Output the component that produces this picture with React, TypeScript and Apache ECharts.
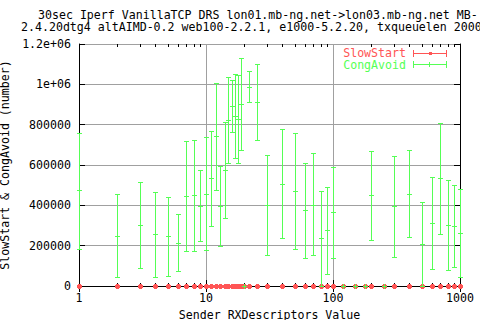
import React, { useEffect, useRef } from "react";
import * as echarts from "echarts";

const titleLines = [
  "30sec Iperf VanillaTCP DRS lon01.mb-ng.net->lon03.mb-ng.net MB-",
  "2.4.20dtg4 altAIMD-0.2 web100-2.2.1, e1000-5.2.20, txqueuelen 2000",
];
const xAxisName = "Sender RXDescriptors Value";
const yAxisName = "SlowStart & CongAvoid (number)";
const legendNames = ["SlowStart", "CongAvoid"];

const yTickLabels = ["0", "200000", "400000", "600000", "800000", "1e+06", "1.2e+06"];
const xTickLabels = ["1", "10", "100", "1000"];
const minorTickValues = [2, 3, 4, 5, 6, 7, 8, 9, 20, 30, 40, 50, 60, 70, 80, 90, 200, 300, 400, 500, 600, 700, 800, 900];

const slowStartX = [1, 2, 3, 4, 5, 6, 7, 8, 9, 10, 11, 12, 13, 14, 15, 16, 17, 18, 19, 20, 22, 25, 30, 40, 50, 60, 70, 80, 90, 100, 120, 150, 180, 200, 250, 300, 400, 500, 600, 700, 800, 900, 1000];
const slowStartValue = [0, 0, 0, 0, 0, 0, 0, 0, 0, 0, 0, 0, 0, 0, 0, 0, 0, 0, 0, 0, 0, 0, 0, 0, 0, 0, 0, 0, 0, 0, 0, 0, 0, 0, 0, 0, 0, 0, 0, 0, 0, 0, 0];

const congX = [1, 2, 3, 4, 5, 6, 7, 8, 9, 10, 11, 12, 13, 14, 15, 16, 17, 18, 19, 20, 22, 25, 30, 40, 50, 60, 70, 80, 90, 100, 120, 150, 180, 200, 250, 300, 400, 500, 600, 700, 800, 900, 1000];
const congValue = [474000, 246000, 301000, 256000, 246000, 212000, 446000, 451000, 398000, 455000, 536000, 742000, 398000, 574000, 822000, 891000, 841000, 827000, 901000, 0, 985000, 911000, 400000, 504000, 470000, 375000, 403000, 236000, 276000, 365000, 0, 0, 0, 450000, 0, 395000, 455000, 207000, 311000, 534000, 301000, 296000, 261000];
const congLow = [182000, 43000, 88000, 43000, 48000, 73000, 172000, 172000, 222000, 178000, 298000, 474000, 197000, 336000, 608000, 764000, 633000, 608000, 674000, 0, 911000, 723000, 152000, 236000, 182000, 137000, 152000, 0, 58000, 137000, 0, 0, 0, 227000, 0, 142000, 241000, 0, 83000, 256000, 78000, 93000, 43000];
const congHigh = [760000, 455000, 514000, 465000, 440000, 356000, 719000, 724000, 574000, 737000, 767000, 1005000, 597000, 812000, 1035000, 1020000, 1050000, 1045000, 1129000, 0, 1065000, 1099000, 648000, 777000, 757000, 608000, 658000, 470000, 489000, 589000, 0, 0, 0, 668000, 0, 643000, 673000, 415000, 539000, 807000, 524000, 499000, 480000];

const RED = "#ff5555";
const GREEN = "#55ff55";
const GRAY = "#a0a0a0";
const FONT = "DejaVu Sans Mono";
const FS = 11.6;

export default function App() {
  const ref = useRef<HTMLDivElement>(null);
  useEffect(() => {
    document.body.style.margin = "0";
    const chart = echarts.init(ref.current!, undefined, { renderer: "svg" });
    const ssData = slowStartX.map((x, i) => [x, slowStartValue[i]]);
    const caData = congX.map((x, i) => [x, congValue[i], congLow[i], congHigh[i]]);
    const txt = { fontFamily: FONT, fontSize: FS, color: "#000" };
    const font = `${FS}px "${FONT}"`;

    const option: any = {
      animation: false,
      backgroundColor: "#fff",
      grid: { left: 79, right: 20, top: 44, bottom: 34, containLabel: false, outerBoundsMode: "none" },
      xAxis: [
        {
          type: "log",
          logBase: 10,
          min: 1,
          max: 1000,
          position: "bottom",
          axisLine: { show: true, lineStyle: { color: "#000", width: 1 } },
          axisTick: { show: true, inside: true, length: 6, lineStyle: { color: "#000" } },
          axisLabel: { ...txt, margin: 6, formatter: (_v: number, i: number) => xTickLabels[i] ?? "" },
          splitLine: { show: true, lineStyle: { color: GRAY, width: 1 } },
          name: xAxisName,
          nameLocation: "middle",
          nameGap: 20,
          nameTextStyle: { ...txt, lineHeight: 11 },
        },
        {
          type: "log",
          logBase: 10,
          min: 1,
          max: 1000,
          position: "top",
          axisLine: { show: true, lineStyle: { color: "#000", width: 1 } },
          axisTick: { show: true, inside: true, length: 6, lineStyle: { color: "#000" } },
          axisLabel: { show: false },
          splitLine: { show: false },
        },
      ],
      yAxis: [
        {
          type: "value",
          min: 0,
          max: 1200000,
          interval: 200000,
          position: "left",
          axisLine: { show: true, lineStyle: { color: "#000", width: 1 } },
          axisTick: { show: true, inside: true, length: 6, lineStyle: { color: "#000" } },
          axisLabel: { ...txt, margin: 8, formatter: (_v: number, i: number) => yTickLabels[i] ?? "" },
          splitLine: { show: true, lineStyle: { color: GRAY, width: 1 } },
          name: yAxisName,
          nameLocation: "middle",
          nameGap: 61,
          nameTextStyle: txt,
        },
        {
          type: "value",
          min: 0,
          max: 1200000,
          interval: 200000,
          position: "right",
          axisLine: { show: true, lineStyle: { color: "#000", width: 1 } },
          axisTick: { show: true, inside: true, length: 6, lineStyle: { color: "#000" } },
          axisLabel: { show: false },
          splitLine: { show: false },
        },
      ],
      graphic: [
        { type: "text", x: 38, y: 15, style: { text: titleLines[0], font, fill: "#000", textAlign: "left", textVerticalAlign: "middle" } },
        { type: "text", x: 21, y: 27, style: { text: titleLines[1], font, fill: "#000", textAlign: "left", textVerticalAlign: "middle" } },
        { type: "text", x: 406, y: 53, style: { text: legendNames[0], font, fill: RED, textAlign: "right", textVerticalAlign: "middle" } },
        { type: "text", x: 406, y: 65, style: { text: legendNames[1], font, fill: GREEN, textAlign: "right", textVerticalAlign: "middle" } },
        { type: "line", shape: { x1: 413, y1: 53.5, x2: 447, y2: 53.5 }, style: { stroke: RED, lineWidth: 1 } },
        { type: "line", shape: { x1: 413.5, y1: 50, x2: 413.5, y2: 57 }, style: { stroke: RED, lineWidth: 1 } },
        { type: "line", shape: { x1: 446.5, y1: 50, x2: 446.5, y2: 57 }, style: { stroke: RED, lineWidth: 1 } },
        { type: "rect", shape: { x: 429, y: 52, width: 3, height: 3 }, style: { fill: RED } },
        { type: "line", shape: { x1: 413, y1: 64.5, x2: 447, y2: 64.5 }, style: { stroke: GREEN, lineWidth: 1 } },
        { type: "line", shape: { x1: 413.5, y1: 61, x2: 413.5, y2: 68 }, style: { stroke: GREEN, lineWidth: 1 } },
        { type: "line", shape: { x1: 446.5, y1: 61, x2: 446.5, y2: 68 }, style: { stroke: GREEN, lineWidth: 1 } },
        { type: "line", shape: { x1: 429.5, y1: 62, x2: 429.5, y2: 67 }, style: { stroke: GREEN, lineWidth: 1 } },
      ],
      series: [
        {
          type: "custom",
          name: "minorTicks",
          xAxisIndex: 0,
          yAxisIndex: 0,
          silent: true,
          data: minorTickValues.map((v) => [v, 0]),
          encode: { x: 0, y: 1 },
          renderItem: (_p: any, api: any) => {
            const v = api.value(0);
            const b = api.coord([v, 0]);
            const t = api.coord([v, 1200000]);
            const x = Math.round(b[0]) + 0.5;
            const st = { stroke: "#000", lineWidth: 1 };
            return {
              type: "group",
              children: [
                { type: "line", shape: { x1: x, y1: b[1], x2: x, y2: b[1] - 3 }, style: st },
                { type: "line", shape: { x1: x, y1: t[1], x2: x, y2: t[1] + 3 }, style: st },
              ],
            };
          },
        },
        {
          type: "custom",
          name: legendNames[0],
          xAxisIndex: 0,
          yAxisIndex: 0,
          data: ssData,
          encode: { x: 0, y: 1 },
          renderItem: (_p: any, api: any) => {
            const c = api.coord([api.value(0), api.value(1)]);
            const cx = Math.round(c[0]);
            const cy = Math.round(c[1]);
            return {
              type: "group",
              children: [
                { type: "rect", shape: { x: cx - 2, y: cy - 1, width: 5, height: 3 }, style: { fill: RED } },
                { type: "rect", shape: { x: cx - 1, y: cy - 2, width: 3, height: 5 }, style: { fill: RED } },
              ],
            };
          },
        },
        {
          type: "custom",
          name: legendNames[1],
          xAxisIndex: 0,
          yAxisIndex: 0,
          data: caData,
          encode: { x: 0, y: 1 },
          renderItem: (_p: any, api: any) => {
            const x = api.value(0);
            const c = api.coord([x, api.value(1)]);
            const l = api.coord([x, api.value(2)]);
            const h = api.coord([x, api.value(3)]);
            const cx = Math.round(c[0]);
            const px = cx + 0.5;
            const r = (v: number) => Math.round(v) + 0.5;
            const st = { stroke: GREEN, lineWidth: 1 };
            return {
              type: "group",
              children: [
                { type: "line", shape: { x1: px, y1: r(h[1]), x2: px, y2: r(l[1]) }, style: st },
                { type: "line", shape: { x1: cx - 2, y1: r(h[1]), x2: cx + 3, y2: r(h[1]) }, style: st },
                { type: "line", shape: { x1: cx - 2, y1: r(l[1]), x2: cx + 3, y2: r(l[1]) }, style: st },
                { type: "line", shape: { x1: cx - 2, y1: r(c[1]), x2: cx + 3, y2: r(c[1]) }, style: st },
                { type: "line", shape: { x1: px, y1: Math.round(c[1]) - 2, x2: px, y2: Math.round(c[1]) + 3 }, style: st },
              ],
            };
          },
        },
      ],
    };
    chart.setOption(option);
    return () => chart.dispose();
  }, []);
  return <div ref={ref} style={{ position: "fixed", left: 0, top: 0, width: 480, height: 320 }} />;
}
